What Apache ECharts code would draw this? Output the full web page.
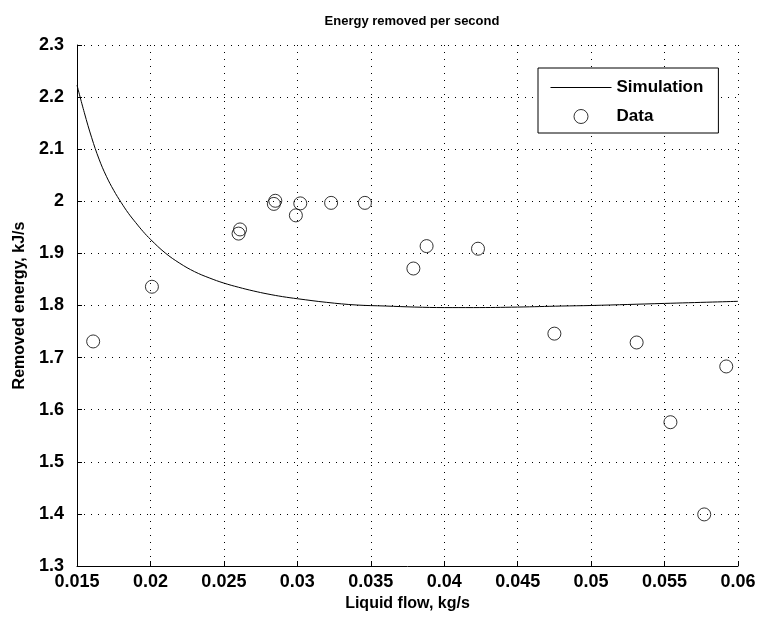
<!DOCTYPE html>
<html>
<head>
<meta charset="utf-8">
<script src="https://cdn.jsdelivr.net/npm/echarts@6/dist/echarts.min.js"></script>
<style>
  html, body { margin: 0; padding: 0; background: #fff; }
  #chart { width: 760px; height: 619px; }
</style>
</head>
<body>
<div id="chart"></div>
<script>
// simulation curve
var simX = [0.015, 0.0155, 0.016, 0.0165, 0.017, 0.0175, 0.018, 0.0185, 0.019, 0.0195, 0.02, 0.021,
            0.022, 0.023, 0.024, 0.025, 0.026, 0.027, 0.028, 0.029, 0.03, 0.032, 0.034, 0.036, 0.038,
            0.04, 0.042, 0.045, 0.048, 0.05, 0.055, 0.06];
var simY = [2.223, 2.170, 2.122, 2.081, 2.048, 2.021, 1.998, 1.977, 1.959, 1.942, 1.927, 1.901,
            1.881, 1.865, 1.853, 1.843, 1.835, 1.828, 1.822, 1.817, 1.813, 1.806, 1.801, 1.799, 1.797,
            1.796, 1.796, 1.797, 1.799, 1.800, 1.804, 1.808];

// measured points
var dataX = [0.0161, 0.0201, 0.0260, 0.0261, 0.0284, 0.0285, 0.0299, 0.0302, 0.0323, 0.0346,
             0.0379, 0.0388, 0.0423, 0.0475, 0.0531, 0.0554, 0.0577, 0.0592];
var dataY = [1.731, 1.836, 1.938, 1.946, 1.995, 2.001, 1.973, 1.996, 1.997, 1.997,
             1.871, 1.914, 1.909, 1.746, 1.729, 1.576, 1.399, 1.683];

var chart = echarts.init(document.getElementById('chart'));

var font = 'Liberation Sans, Arial, sans-serif';
var dotted = { color: '#000', width: 1, type: [1, 6] };

var option = {
  animation: false,
  backgroundColor: '#fff',
  title: {
    text: 'Energy removed per second',
    left: 407,
    textAlign: 'center',
    top: 10,
    textStyle: { fontFamily: font, fontSize: 13, fontWeight: 'bold', color: '#000' }
  },
  legend: {
    orient: 'vertical',
    left: 538,
    top: 68,
    padding: [11, 15, 8, 12],
    itemWidth: 61,
    itemHeight: 14,
    itemGap: 12,
    borderColor: '#000',
    borderWidth: 1,
    backgroundColor: '#fff',
    textStyle: { fontFamily: font, fontSize: 17, fontWeight: 'bold', color: '#000' },
    data: [
      { name: 'Simulation', itemStyle: { opacity: 0 }, lineStyle: { color: '#000', width: 1 } },
      { name: 'Data', icon: 'circle', itemStyle: { color: 'rgba(0,0,0,0)', borderColor: '#000', borderWidth: 1 } }
    ]
  },
  grid: { left: 77, right: 22, top: 45, bottom: 53 },
  xAxis: {
    type: 'value',
    min: 0.015,
    max: 0.06,
    interval: 0.005,
    name: 'Liquid flow, kg/s',
    nameLocation: 'middle',
    nameGap: 30,
    nameTextStyle: { fontFamily: font, fontSize: 16, fontWeight: 'bold', color: '#000' },
    axisLine: { lineStyle: { color: '#000', width: 1 } },
    axisTick: { inside: true, length: 5, lineStyle: { color: '#000' } },
    axisLabel: {
      fontFamily: font, fontSize: 18, fontWeight: 'bold', color: '#000', margin: 7,
      formatter: function (v) { return String(+v.toFixed(3)); }
    },
    splitLine: { show: true, lineStyle: dotted }
  },
  yAxis: {
    type: 'value',
    min: 1.3,
    max: 2.3,
    interval: 0.1,
    name: 'Removed energy, kJ/s',
    nameLocation: 'middle',
    nameGap: 46,
    nameTextStyle: { fontFamily: font, fontSize: 16, fontWeight: 'bold', color: '#000' },
    axisLine: { show: true, lineStyle: { color: '#000', width: 1 } },
    axisTick: { show: true, inside: true, length: 5, lineStyle: { color: '#000' } },
    axisLabel: {
      fontFamily: font, fontSize: 18, fontWeight: 'bold', color: '#000', margin: 13,
      formatter: function (v) { return String(+v.toFixed(1)); }
    },
    splitLine: { show: true, lineStyle: dotted }
  },
  series: [
    {
      name: 'Simulation',
      type: 'line',
      data: simX.map(function (x, i) { return [x, simY[i]]; }),
      showSymbol: false,
      symbol: 'none',
      smooth: 0.4,
      lineStyle: { color: '#000', width: 1 },
      itemStyle: { color: '#000' }
    },
    {
      name: 'Data',
      type: 'scatter',
      data: dataX.map(function (x, i) { return [x, dataY[i]]; }),
      symbol: 'circle',
      symbolSize: 13,
      itemStyle: { color: 'rgba(0,0,0,0)', borderColor: '#000', borderWidth: 1 }
    }
  ]
};

chart.setOption(option);
</script>
</body>
</html>
